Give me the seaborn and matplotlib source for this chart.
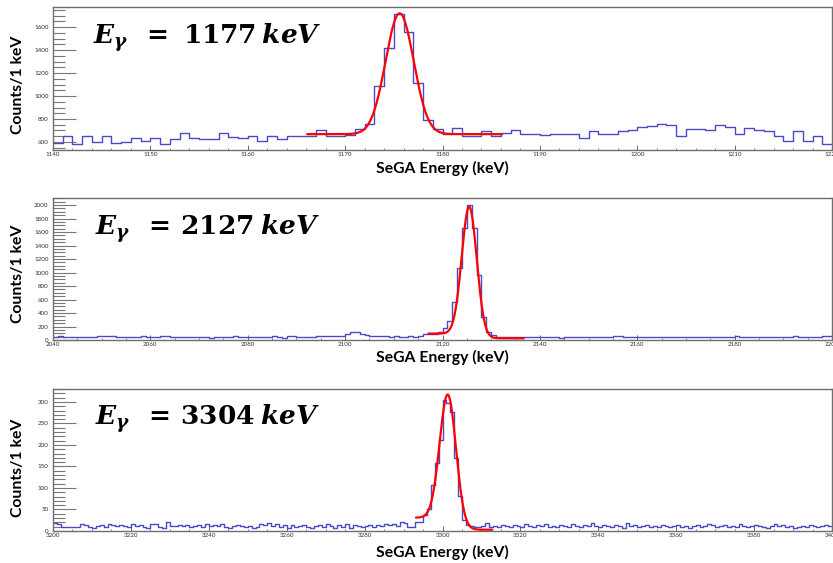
import math
import numpy as np
import pandas as pd
import matplotlib
matplotlib.use("Agg")
import matplotlib.pyplot as plt
import seaborn as sns
from matplotlib.ticker import MultipleLocator

# ---------------- data ----------------
e_start_1177 = 1140
counts_1177 = [590, 650, 580, 653, 600, 650, 594, 600, 638, 606,
               638, 580, 630, 680, 635, 630, 630, 680, 644, 638,
               653, 609, 650, 630, 656, 650, 650, 703, 650, 650,
               659, 709, 753, 1085, 1417, 1715, 1556, 1110, 791, 709,
               673, 723, 650, 650, 694, 650, 679, 703, 668, 668,
               662, 673, 673, 665, 638, 697, 665, 673, 697, 703,
               726, 738, 753, 747, 656, 709, 709, 703, 744, 732,
               673, 723, 703, 694, 656, 606, 694, 606, 650, 580]

e_start_2127 = 2040
counts_2127 = [45, 52, 50, 38, 42, 40, 44, 48, 50, 58,
               62, 55, 57, 48, 44, 40, 50, 46, 52, 44,
               48, 46, 58, 54, 46, 42, 40, 44, 42, 46,
               44, 38, 34, 44, 50, 48, 46, 52, 46, 44,
               40, 44, 48, 42, 46, 60, 44, 36, 52, 56,
               50, 44, 46, 48, 52, 56, 54, 60, 58, 64,
               96, 118, 112, 90, 74, 66, 62, 58, 54, 46,
               52, 50, 48, 56, 50, 58, 84, 84, 84, 123,
               173, 281, 568, 1062, 1654, 2000, 1654, 963, 346, 123,
               74, 50, 40, 44, 42, 46, 38, 40, 44, 42,
               38, 44, 46, 40, 36, 42, 44, 40, 38, 46,
               42, 40, 44, 48, 40, 60, 52, 44, 40, 44,
               44, 42, 40, 46, 48, 44, 40, 42, 38, 44,
               46, 42, 40, 44, 48, 46, 50, 44, 42, 46,
               52, 48, 44, 40, 42, 46, 44, 40, 42, 46,
               50, 48, 52, 46, 44, 42, 48, 50, 56, 52]

e_start_3304 = 3200
counts_3304 = [18, 16, 10, 9, 10, 10, 10, 16, 14, 10,
               8, 12, 14, 10, 16, 15, 12, 14, 12, 10,
               16, 12, 14, 10, 8, 16, 16, 10, 8, 22,
               12, 12, 14, 12, 14, 10, 12, 14, 10, 16,
               12, 14, 12, 16, 10, 8, 12, 14, 12, 10,
               12, 8, 10, 16, 14, 18, 12, 16, 10, 14,
               8, 14, 10, 12, 14, 10, 8, 12, 14, 10,
               16, 12, 8, 14, 10, 16, 8, 14, 12, 10,
               12, 14, 10, 14, 12, 16, 14, 16, 12, 20,
               18, 10, 10, 22, 22, 37, 50, 107, 157, 212,
               305, 298, 276, 170, 82, 25, 14, 12, 10, 10,
               12, 18, 10, 12, 10, 14, 12, 10, 14, 12,
               10, 16, 12, 10, 14, 12, 16, 10, 12, 10,
               14, 12, 10, 16, 12, 10, 14, 12, 18, 12,
               10, 14, 12, 10, 14, 12, 8, 18, 12, 14,
               10, 12, 14, 10, 12, 10, 14, 12, 10, 12,
               14, 10, 12, 8, 12, 14, 10, 12, 16, 14,
               10, 12, 14, 10, 12, 10, 16, 12, 10, 12,
               14, 12, 10, 8, 12, 16, 12, 14, 10, 12,
               8, 10, 12, 10, 14, 12, 10, 12, 14, 12]

# fitted peak parameters (gaussian + step background)
fit_center = [1175.6, 2125.5, 3301.4]
fit_sigma = [1.44, 1.54, 2.1]
fit_amp = [1052, 1915, 300]
fit_bg_left = [668, 95, 31]
fit_bg_right = [668, 25, 3]
fit_lo = [1166.1, 2117.1, 3293.2]
fit_hi = [1186.1, 2136.7, 3312.8]

peak_labels = [r"$E_{\gamma}\ \,=\ 1177\:keV$",
               r"$E_{\gamma}\ \,=\,2127\:keV$",
               r"$E_{\gamma}\ \,=\,3304\:keV$"]
x_label = "SeGA Energy (keV)"
y_label = "Counts/1 keV"

# ---------------- style ----------------
sns.set_style("white")
plt.rcParams["font.family"] = ["Lato", "DejaVu Sans"]
plt.rcParams["mathtext.fontset"] = "custom"
plt.rcParams["mathtext.rm"] = "DejaVu Serif:bold"
plt.rcParams["mathtext.it"] = "DejaVu Serif:italic:bold"
plt.rcParams["mathtext.bf"] = "DejaVu Serif:bold"

HIST_COLOR = "#4a4ac6"
FIT_COLOR = "#ff0000"
FRAME_COLOR = "#6e6e6e"


def peak_model(e, center, sigma, amp, bg_left, bg_right):
    g = amp * np.exp(-0.5 * ((e - center) / sigma) ** 2)
    step = 0.5 * np.array([math.erfc((x - center) / (math.sqrt(2) * sigma)) for x in e])
    return bg_right + (bg_left - bg_right) * step + g


fig = plt.figure(figsize=(8.33, 5.63), dpi=100)

W, H = 833.0, 563.0
left_px, right_px = 53.0, 832.0
panels = [
    dict(start=e_start_1177, counts=counts_1177, xlim=(1140, 1220), ylim=(530, 1775),
         xmaj=10, xmin=2, ymaj=200, ymin=50, top=7, bottom=150,
         text_xy=(0.0513, 0.741), xlab_y=-0.077, ylab_y=0.455),
    dict(start=e_start_2127, counts=counts_2127, xlim=(2040, 2200), ylim=(0, 2104),
         xmaj=20, xmin=5, ymaj=200, ymin=50, top=198, bottom=340,
         text_xy=(0.054, 0.739), xlab_y=-0.072, ylab_y=0.468),
    dict(start=e_start_3304, counts=counts_3304, xlim=(3200, 3400), ylim=(0, 330),
         xmaj=20, xmin=5, ymaj=50, ymin=10, top=389, bottom=531,
         text_xy=(0.054, 0.746), xlab_y=-0.10, ylab_y=0.444),
]

for i, p in enumerate(panels):
    ax = fig.add_axes([left_px / W, 1 - p["bottom"] / H,
                       (right_px - left_px) / W, (p["bottom"] - p["top"]) / H])
    counts = np.asarray(p["counts"], dtype=float)
    edges = [float(v) for v in range(p["start"], p["start"] + len(counts) + 1)]
    df = pd.DataFrame({"energy": np.asarray(edges[:-1]) + 0.5, "counts": counts})
    sns.histplot(data=df, x="energy", weights="counts", bins=edges, element="step",
                 fill=False, color=HIST_COLOR, linewidth=1.0, ax=ax)

    ef = np.linspace(fit_lo[i], fit_hi[i], 500)
    yf = peak_model(ef, fit_center[i], fit_sigma[i], fit_amp[i],
                    fit_bg_left[i], fit_bg_right[i])
    sns.lineplot(x=ef, y=yf, color=FIT_COLOR, linewidth=1.6, ax=ax)

    ax.set_xlim(*p["xlim"])
    ax.set_ylim(*p["ylim"])
    ax.xaxis.set_major_locator(MultipleLocator(p["xmaj"]))
    ax.xaxis.set_minor_locator(MultipleLocator(p["xmin"]))
    ax.yaxis.set_major_locator(MultipleLocator(p["ymaj"]))
    ax.yaxis.set_minor_locator(MultipleLocator(p["ymin"]))
    ax.tick_params(axis="y", which="major", direction="in", length=16.5, width=0.8,
                   color="#777777", labelsize=4.5, labelcolor="#333333", pad=3.2,
                   left=True)
    ax.tick_params(axis="y", which="minor", direction="in", length=8.5, width=0.8,
                   color="#777777", left=True)
    ax.tick_params(axis="x", which="major", direction="in", length=3.5, width=0.6,
                   color="#555555", labelsize=4.5, labelcolor="#333333", pad=1.5,
                   bottom=True)
    ax.tick_params(axis="x", which="minor", direction="in", length=1.8, width=0.5,
                   color="#555555", bottom=True)
    for s in ax.spines.values():
        s.set_color(FRAME_COLOR)
        s.set_linewidth(1.0)

    ax.set_xlabel(x_label, fontsize=11.3, fontweight="bold", color="black")
    ax.xaxis.set_label_coords(0.5, p["xlab_y"])
    ax.set_ylabel(y_label, fontsize=11.3, fontweight="bold", color="black")
    ax.yaxis.set_label_coords(-0.036, p["ylab_y"])

    ax.text(p["text_xy"][0], p["text_xy"][1], peak_labels[i], transform=ax.transAxes,
            fontsize=19, ha="left", va="baseline", color="black")

fig.savefig("out.png", dpi=100)
